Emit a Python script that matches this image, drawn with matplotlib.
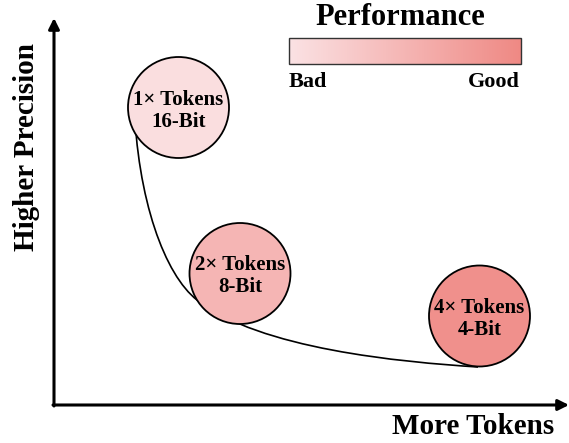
import numpy as np
import matplotlib
matplotlib.use("Agg")
import matplotlib.pyplot as plt
from matplotlib.patches import Circle, Rectangle, PathPatch
from matplotlib.path import Path
from matplotlib.colors import LinearSegmentedColormap

# ---- data ----
token_labels = ["1\u00d7 Tokens", "2\u00d7 Tokens", "4\u00d7 Tokens"]
bit_labels = ["16-Bit", "8-Bit", "4-Bit"]
performance = [0.05, 0.5, 0.92]
circle_x = [178.5, 240.0, 479.5]
circle_y = [107.5, 273.5, 316.0]
curve_x = [134, 137, 165, 197, 260, 400, 478]
curve_y = [100, 200, 275, 300, 349, 362, 367]
scale_labels = ["Bad", "Good"]

W, H = 569, 443
fig = plt.figure(figsize=(W / 100, H / 100), dpi=100)
ax = fig.add_axes([0, 0, 1, 1])
ax.set_xlim(0, W)
ax.set_ylim(H, 0)
ax.axis("off")

font = ["Liberation Serif", "DejaVu Serif"]
cmap = LinearSegmentedColormap.from_list("perf", ["#fbe2e4", "#ef8984"])

# axes arrows
arrow = dict(arrowstyle="-|>", lw=2.2, color="black", mutation_scale=16,
             shrinkA=0, shrinkB=0)
ax.annotate("", xy=(54, 18), xytext=(54, 406), arrowprops=arrow)
ax.annotate("", xy=(569, 405), xytext=(53, 405), arrowprops=arrow)

ax.text(34, 147, "Higher Precision", rotation=90, rotation_mode="anchor",
        ha="center", va="baseline", fontsize=21, fontweight="bold", family=font)
ax.text(473, 434, "More Tokens", ha="center", va="baseline",
        fontsize=21, fontweight="bold", family=font)

# curve
codes = [Path.MOVETO] + [Path.CURVE4] * 6
path = Path(list(zip(curve_x, curve_y)), codes)
ax.add_patch(PathPatch(path, fill=False, lw=1.2, edgecolor="black", zorder=2))

# circles
for cx, cy, p, t1, t2 in zip(circle_x, circle_y, performance, token_labels, bit_labels):
    ax.add_patch(Circle((cx, cy), 50.5, facecolor=cmap(p), edgecolor="black",
                        lw=1.3, zorder=3))
    ax.text(cx, cy - 3, t1, ha="center", va="baseline", fontsize=15,
            fontweight="bold", family=font, zorder=4)
    ax.text(cx, cy + 19, t2, ha="center", va="baseline", fontsize=15,
            fontweight="bold", family=font, zorder=4)

# performance colorbar
grad = np.linspace(0, 1, 256).reshape(1, -1)
ax.imshow(grad, cmap=cmap, extent=[289, 521, 64, 38], aspect="auto", zorder=3)
ax.add_patch(Rectangle((289, 38), 232, 26, fill=False, edgecolor="#333333",
                       lw=1.0, zorder=4))
ax.set_xlim(0, W)
ax.set_ylim(H, 0)
ax.text(400, 25, "Performance", ha="center", va="baseline", fontsize=22,
        fontweight="bold", family=font)
ax.text(289, 87, scale_labels[0], ha="left", va="baseline", fontsize=16,
        fontweight="bold", family=font)
ax.text(520, 87, scale_labels[1], ha="right", va="baseline", fontsize=16,
        fontweight="bold", family=font)

fig.savefig("out.png", dpi=100)
